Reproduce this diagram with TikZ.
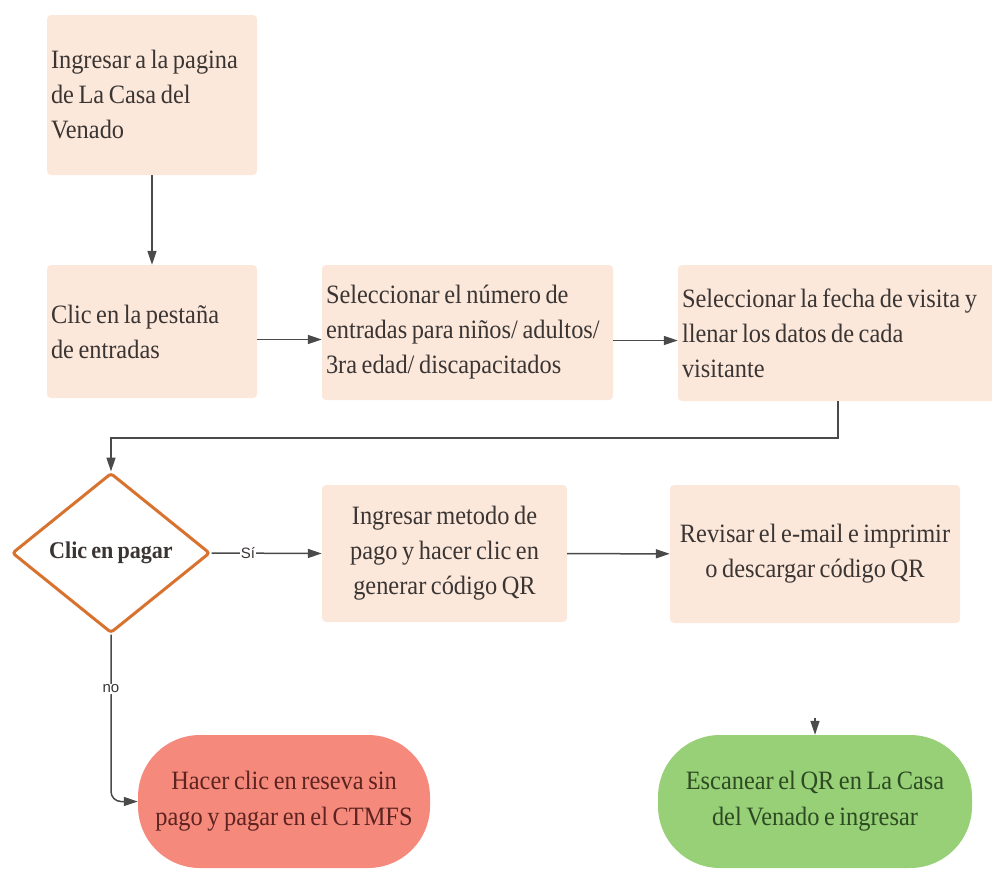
\documentclass[tikz,border=0pt]{standalone}
\usepackage{fontspec}
\setmainfont[FakeStretch=0.92,WordSpace=0.75]{Liberation Serif}
\newfontfamily\etiqfont{Liberation Sans}
\usetikzlibrary{arrows.meta,shapes.geometric}

\definecolor{durazno}{HTML}{FCE8DB}
\definecolor{naranja}{HTML}{D8722F}
\definecolor{salmon}{HTML}{F58A7C}
\definecolor{verde}{HTML}{97D077}
\definecolor{texto}{HTML}{3A3533}
\definecolor{textorojo}{HTML}{5C2320}
\definecolor{textoverde}{HTML}{2D4A22}
\definecolor{linea}{HTML}{4A4A4A}

\tikzset{
  paso/.style={rectangle, rounded corners=4pt, fill=durazno, text=texto,
    inner xsep=4pt, inner ysep=0pt, font=\fontsize{26.5}{35}\selectfont},
  pasoizq/.style={paso, align=flush left},
  pasocen/.style={paso, align=center},
  decision/.style={diamond, draw=naranja, line width=3pt, fill=white,
    rounded corners=3pt, inner sep=0pt, text=texto,
    font=\fontsize{24}{30}\selectfont\bfseries},
  final/.style={rectangle, rounded corners=62pt, inner sep=0pt, align=center,
    font=\fontsize{26.5}{36}\selectfont},
  flecha/.style={draw=linea, line width=1.5pt, -{Triangle[length=14pt,width=9pt]}},
  etiqueta/.style={fill=white, inner sep=1pt, text=texto,
    font=\etiqfont\fontsize{15}{15}\selectfont}
}

\begin{document}
\begin{tikzpicture}[x=1pt,y=-1pt]

\useasboundingbox (0,0) rectangle (992,868);

% Steps
\node[pasoizq, minimum width=210pt, minimum height=160pt, text width=202pt]
  (pagina) at (152,95) {Ingresar a la pagina\\de La Casa del\\Venado};
\node[pasoizq, minimum width=210pt, minimum height=133pt, text width=202pt]
  (pestana) at (152,331.5) {Clic en la pesta\~na\\de entradas};
\node[pasoizq, minimum width=291pt, minimum height=135pt, text width=283pt]
  (numero) at (467.5,332.5) {Seleccionar el n\'umero de\\entradas para ni\~nos/ adultos/\\3ra edad/ discapacitados};
\node[pasoizq, minimum width=320pt, minimum height=136pt, text width=312pt]
  (fecha) at (838,333) {Seleccionar la fecha de visita y\\llenar los datos de cada\\visitante};

% Decision
\node[decision, minimum width=198pt, minimum height=160pt]
  (pagar) at (111,553) {Clic en pagar};

\node[pasocen, minimum width=245pt, minimum height=137pt]
  (metodo) at (444.5,553.5) {Ingresar metodo de\\pago y hacer clic en\\generar c\'odigo QR};
\node[pasocen, minimum width=290pt, minimum height=138pt]
  (email) at (815,554) {Revisar el e-mail e imprimir\\o descargar c\'odigo QR};

% Ends
\node[final, fill=salmon, text=textorojo, minimum width=292pt, minimum height=133pt]
  (reserva) at (284,801.5) {Hacer clic en reseva sin\\pago y pagar en el CTMFS};
\node[final, fill=verde, text=textoverde, minimum width=314pt, minimum height=133pt]
  (escanear) at (815,801.5) {Escanear el QR en La Casa\\del Venado e ingresar};

\coordinate (antes) at (815,718);

% Connectors
\draw[flecha] (pagina) -- (pestana);
\draw[flecha] ([yshift=-8pt]pestana.east) -- ([yshift=-8pt]pestana.east -| numero.west);
\draw[flecha] ([yshift=-8pt]numero.east) -- ([yshift=-8pt]numero.east -| fecha.west);
\draw[flecha] (fecha.south) -- ++(0,37) -| (pagar.north);
\draw[flecha] (pagar.east) -- node[etiqueta, pos=0.33] {Sí} (metodo.west);
\draw[flecha] (metodo) -- (email);
\draw[flecha, rounded corners=10pt] (pagar.south) |- node[etiqueta, pos=0.163] {no} (reserva.west);
\draw[flecha] (antes) -- (escanear.north);

\end{tikzpicture}
\end{document}
